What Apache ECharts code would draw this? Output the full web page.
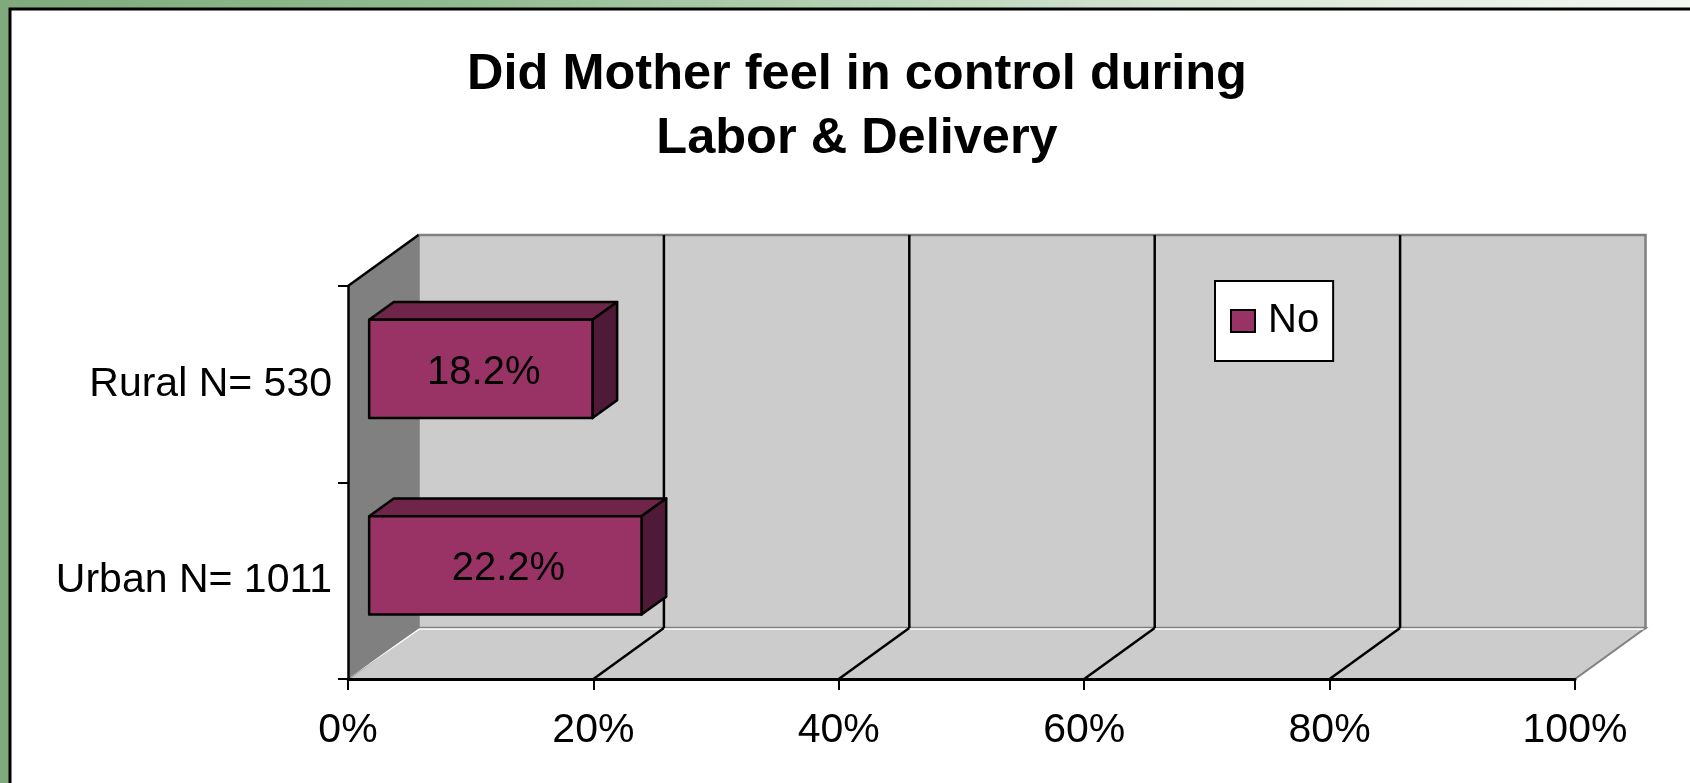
<!DOCTYPE html>
<html>
<head>
<meta charset="utf-8">
<title>Did Mother feel in control during Labor &amp; Delivery</title>
<script src="https://cdn.jsdelivr.net/npm/echarts@6/dist/echarts.min.js"></script>
<style>
  html, body { margin: 0; padding: 0; background: #ffffff; }
  #chart { width: 1690px; height: 783px; }
</style>
</head>
<body>
<div id="chart"></div>
<script>
// ---- data ----
const categories = ['Urban N= 1011', 'Rural N= 530'];
const seriesName = 'No';
const noValues = [22.2, 18.2];
const xTickValues = [0, 20, 40, 60, 80, 100];

// ---- 3D look: oblique depth offset of the plot box, in pixels ----
const DX = 70.5;
const DY = -51;
const BAR_FRONT = 0.3;   // depth fraction where bar front face sits
const BAR_DEPTH = 0.35;  // depth of the bar itself (fraction of box depth)
const BAR_RATIO = 0.5;   // bar thickness relative to the category band

const FONT = '"Liberation Sans", Arial, Helvetica, sans-serif';

const chart = echarts.init(document.getElementById('chart'), null, { renderer: 'canvas' });

// back wall, side wall, floor and gridlines
function renderWalls(params, api) {
  const cs = params.coordSys;
  const fl = cs.x, fr = cs.x + cs.width, ft = cs.y, fb = cs.y + cs.height;
  const children = [];
  // back wall
  children.push({
    type: 'polygon',
    shape: { points: [[fl + DX, ft + DY], [fr + DX, ft + DY], [fr + DX, fb + DY], [fl + DX, fb + DY]] },
    style: { fill: '#cccccc', stroke: '#808080', lineWidth: 2.5 }
  });
  // floor
  children.push({
    type: 'polygon',
    shape: { points: [[fl, fb], [fl + DX, fb + DY], [fr + DX, fb + DY], [fr, fb]] },
    style: { fill: '#cccccc', stroke: '#808080', lineWidth: 2 }
  });
  // light edge between floor and walls
  children.push({
    type: 'polyline',
    shape: { points: [[fl + 2, fb - 2], [fl + DX + 1, fb + DY + 1], [fr + DX - 2, fb + DY + 1]] },
    style: { stroke: '#ffffff', lineWidth: 1.5, fill: null }
  });
  // side wall
  children.push({
    type: 'polygon',
    shape: { points: [[fl, ft], [fl + DX, ft + DY], [fl + DX, fb + DY], [fl, fb]] },
    style: { fill: '#808080', stroke: null }
  });
  children.push({
    type: 'line',
    shape: { x1: fl, y1: ft, x2: fl + DX, y2: ft + DY },
    style: { stroke: '#000000', lineWidth: 2.5 }
  });
  // gridlines on back wall and floor
  xTickValues.forEach(function (v) {
    if (v === 0 || v === 100) return;
    const x = api.coord([v, 0])[0];
    children.push({
      type: 'line',
      shape: { x1: x + DX, y1: ft + DY, x2: x + DX, y2: fb + DY },
      style: { stroke: '#000000', lineWidth: 2.5 }
    });
    children.push({
      type: 'line',
      shape: { x1: x, y1: fb, x2: x + DX, y2: fb + DY },
      style: { stroke: '#000000', lineWidth: 2.5 }
    });
  });
  return { type: 'group', children: children };
}

// one 3D bar: front face, top face and right side
function renderBar(params, api) {
  const val = api.value(0);
  const cat = api.value(1);
  const p0 = api.coord([0, cat]);
  const p1 = api.coord([val, cat]);
  const band = api.size([0, 1])[1];
  const h = band * BAR_RATIO / 2;
  const ox = DX * BAR_FRONT, oy = DY * BAR_FRONT;
  const bx = DX * BAR_DEPTH, by = DY * BAR_DEPTH;
  const x0 = p0[0] + ox, x1 = p1[0] + ox;
  const y0 = p0[1] + oy - h, y1 = p0[1] + oy + h;
  const edge = { stroke: '#000000', lineWidth: 2.5, lineJoin: 'round' };
  return {
    type: 'group',
    children: [
      {
        type: 'polygon',
        shape: { points: [[x0, y0], [x0 + bx, y0 + by], [x1 + bx, y0 + by], [x1, y0]] },
        style: Object.assign({ fill: '#6f2449' }, edge)
      },
      {
        type: 'polygon',
        shape: { points: [[x1, y0], [x1 + bx, y0 + by], [x1 + bx, y1 + by], [x1, y1]] },
        style: Object.assign({ fill: '#4f1a37' }, edge)
      },
      {
        type: 'rect',
        shape: { x: x0, y: y0, width: x1 - x0, height: y1 - y0 },
        style: Object.assign({ fill: '#993366' }, edge)
      },
      {
        type: 'text',
        x: (x0 + x1) / 2 + 3,
        y: (y0 + y1) / 2 + 4,
        style: {
          text: val.toFixed(1) + '%',
          fill: '#000000',
          font: '40px ' + FONT,
          align: 'center',
          verticalAlign: 'middle'
        }
      }
    ]
  };
}

const option = {
  backgroundColor: new echarts.graphic.LinearGradient(0, 0, 1, 0, [
    { offset: 0, color: '#80a97c' },
    { offset: 0.3, color: '#95bd94' },
    { offset: 0.7, color: '#d6e6d3' },
    { offset: 1, color: '#f4f7f3' }
  ]),
  animation: false,
  graphic: [
    {
      type: 'rect',
      z: -10,
      shape: { x: 10, y: 9, width: 1690, height: 790 },
      style: { fill: '#ffffff', stroke: '#000000', lineWidth: 3 }
    }
  ],
  title: {
    text: 'Did Mother feel in control during\nLabor & Delivery',
    left: 852,
    top: 38,
    textAlign: 'center',
    textStyle: {
      fontFamily: FONT,
      fontSize: 50.5,
      fontWeight: 'bold',
      color: '#000000',
      lineHeight: 64
    }
  },
  legend: {
    data: [seriesName],
    left: 1215,
    top: 281,
    orient: 'vertical',
    backgroundColor: '#ffffff',
    borderColor: '#000000',
    borderWidth: 2,
    borderRadius: 0,
    padding: [14, 14, 14, 15],
    itemWidth: 24,
    itemHeight: 22,
    icon: 'rect',
    itemStyle: { color: '#993366', borderColor: '#000000', borderWidth: 2 },
    textStyle: {
      fontFamily: FONT,
      fontSize: 40,
      color: '#000000',
      lineHeight: 44,
      padding: [8, 0, 0, 8]
    }
  },
  grid: {
    left: 348,
    right: 115,
    top: 286,
    bottom: 104,
    containLabel: false
  },
  xAxis: {
    type: 'value',
    min: 0,
    max: 100,
    interval: 20,
    z: 5,
    axisLine: { show: true, lineStyle: { color: '#000000', width: 3 } },
    axisTick: { show: true, length: 11, lineStyle: { color: '#000000', width: 2 } },
    splitLine: { show: false },
    axisLabel: {
      formatter: '{value}%',
      fontFamily: FONT,
      fontSize: 41,
      color: '#000000',
      margin: 31
    }
  },
  yAxis: {
    type: 'category',
    data: categories,
    z: 5,
    axisLine: { show: true, lineStyle: { color: '#000000', width: 2.5 } },
    axisTick: { show: true, length: 10, lineStyle: { color: '#000000', width: 2 } },
    splitLine: { show: false },
    axisLabel: {
      fontFamily: FONT,
      fontSize: 41,
      color: '#000000',
      margin: 16,
      padding: [8, 0, 0, 0]
    }
  },
  series: [
    {
      type: 'custom',
      name: 'walls',
      z: 1,
      silent: true,
      renderItem: renderWalls,
      data: [[0, 0]],
      encode: { x: 0, y: 1 }
    },
    {
      type: 'custom',
      name: seriesName,
      z: 3,
      renderItem: renderBar,
      itemStyle: { color: '#993366', borderColor: '#000000', borderWidth: 2 },
      encode: { x: 0, y: 1 },
      data: noValues.map(function (v, i) { return [v, i]; })
    }
  ]
};

chart.setOption(option);
</script>
</body>
</html>
